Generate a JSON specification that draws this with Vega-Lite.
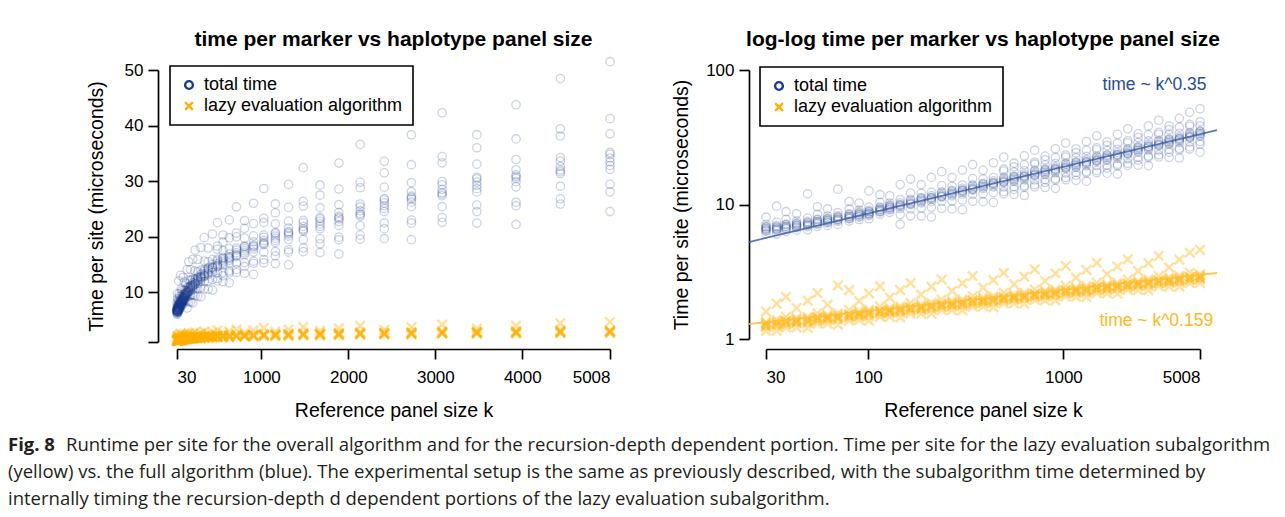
{
"$schema":"https://vega.github.io/schema/vega-lite/v6.json",
"background":"white",
"padding":{"left":8,"top":28,"right":0,"bottom":0},
"config":{
 "font":"Liberation Sans",
 "view":{"stroke":null},
 "axis":{"grid":false,"domainColor":"#000","domainWidth":1.7,"tickColor":"#000","tickWidth":1.7,"tickSize":10,"labelFontSize":17,"labelColor":"#000","titleFontSize":19.5,"titleFontWeight":"normal","titleColor":"#000"},
 "title":{"fontSize":21,"fontWeight":"bold","color":"#000"},
 "legend":{"strokeColor":"#000","strokeWidth":1.6,"fillColor":"#fff","padding":10,"labelFontSize":18,"labelColor":"#000","labelLimit":0,"symbolSize":60,"symbolStrokeWidth":2.4,"symbolOpacity":1,"rowPadding":3,"labelOffset":6}
},
"datasets":{
"total":[
{"k":30,"v":6.07},{"k":30,"v":6.34},{"k":30,"v":6.6},{"k":30,"v":6.8},{"k":30,"v":7.13},{"k":30,"v":8.05},
{"k":34,"v":6.03},{"k":34,"v":6.37},{"k":34,"v":6.57},{"k":34,"v":6.83},{"k":34,"v":7.37},{"k":34,"v":9.72},
{"k":38,"v":6.32},{"k":38,"v":6.6},{"k":38,"v":6.87},{"k":38,"v":7.14},{"k":38,"v":7.75},{"k":38,"v":8.84},
{"k":43,"v":6.44},{"k":43,"v":6.72},{"k":43,"v":7.0},{"k":43,"v":7.21},{"k":43,"v":7.56},{"k":43,"v":8.54},
{"k":49,"v":6.48},{"k":49,"v":6.84},{"k":49,"v":7.06},{"k":49,"v":7.34},{"k":49,"v":7.92},{"k":49,"v":12.0},
{"k":55,"v":6.88},{"k":55,"v":7.18},{"k":55,"v":7.47},{"k":55,"v":7.77},{"k":55,"v":8.44},{"k":55,"v":9.62},
{"k":62,"v":6.99},{"k":62,"v":7.3},{"k":62,"v":7.6},{"k":62,"v":7.83},{"k":62,"v":8.21},{"k":62,"v":9.27},
{"k":70,"v":7.11},{"k":70,"v":7.51},{"k":70,"v":7.74},{"k":70,"v":8.06},{"k":70,"v":8.69},{"k":70,"v":13.0},
{"k":80,"v":7.53},{"k":80,"v":7.86},{"k":80,"v":8.18},{"k":80,"v":8.51},{"k":80,"v":9.23},{"k":80,"v":10.53},
{"k":90,"v":7.73},{"k":90,"v":8.06},{"k":90,"v":8.4},{"k":90,"v":8.65},{"k":90,"v":9.07},{"k":90,"v":10.25},
{"k":101,"v":7.83},{"k":101,"v":8.27},{"k":101,"v":8.53},{"k":101,"v":8.87},{"k":101,"v":9.57},{"k":101,"v":12.62},
{"k":115,"v":8.46},{"k":115,"v":8.83},{"k":115,"v":9.19},{"k":115,"v":9.56},{"k":115,"v":10.37},{"k":115,"v":11.83},
{"k":129,"v":8.74},{"k":129,"v":9.12},{"k":129,"v":9.5},{"k":129,"v":9.79},{"k":129,"v":10.26},{"k":129,"v":11.59},
{"k":146,"v":7.13},{"k":146,"v":8.42},{"k":146,"v":9.31},{"k":146,"v":9.9},{"k":146,"v":10.89},{"k":146,"v":14.06},
{"k":165,"v":8.24},{"k":165,"v":9.27},{"k":165,"v":10.09},{"k":165,"v":10.92},{"k":165,"v":12.15},{"k":165,"v":15.45},
{"k":187,"v":8.21},{"k":187,"v":9.4},{"k":187,"v":10.26},{"k":187,"v":11.12},{"k":187,"v":12.1},{"k":187,"v":14.04},
{"k":211,"v":8.06},{"k":211,"v":9.52},{"k":211,"v":10.53},{"k":211,"v":11.2},{"k":211,"v":12.32},{"k":211,"v":15.9},
{"k":238,"v":9.36},{"k":238,"v":10.53},{"k":238,"v":11.47},{"k":238,"v":12.4},{"k":238,"v":13.81},{"k":238,"v":17.55},
{"k":269,"v":9.27},{"k":269,"v":10.61},{"k":269,"v":11.59},{"k":269,"v":12.57},{"k":269,"v":13.66},{"k":269,"v":15.86},
{"k":304,"v":9.14},{"k":304,"v":10.8},{"k":304,"v":11.94},{"k":304,"v":12.7},{"k":304,"v":13.97},{"k":304,"v":18.03},
{"k":343,"v":10.56},{"k":343,"v":11.88},{"k":343,"v":12.94},{"k":343,"v":13.99},{"k":343,"v":15.58},{"k":343,"v":19.8},
{"k":388,"v":10.49},{"k":388,"v":12.01},{"k":388,"v":13.11},{"k":388,"v":14.21},{"k":388,"v":15.46},{"k":388,"v":17.94},
{"k":438,"v":10.37},{"k":438,"v":12.24},{"k":438,"v":13.54},{"k":438,"v":14.4},{"k":438,"v":15.84},{"k":438,"v":20.45},
{"k":495,"v":12.0},{"k":495,"v":12.45},{"k":495,"v":13.5},{"k":495,"v":14.7},{"k":495,"v":15.9},{"k":495,"v":17.7},{"k":495,"v":18.3},{"k":495,"v":22.5},
{"k":559,"v":11.86},{"k":559,"v":12.95},{"k":559,"v":13.57},{"k":559,"v":14.82},{"k":559,"v":16.07},{"k":559,"v":17.47},{"k":559,"v":19.03},{"k":559,"v":20.28},
{"k":631,"v":11.66},{"k":631,"v":13.45},{"k":631,"v":13.77},{"k":631,"v":15.23},{"k":631,"v":16.2},{"k":631,"v":17.82},{"k":631,"v":19.76},{"k":631,"v":23.0},
{"k":713,"v":13.52},{"k":713,"v":14.03},{"k":713,"v":15.21},{"k":713,"v":16.56},{"k":713,"v":17.91},{"k":713,"v":19.94},{"k":713,"v":20.62},{"k":713,"v":25.35},
{"k":806,"v":13.38},{"k":806,"v":14.61},{"k":806,"v":15.31},{"k":806,"v":16.72},{"k":806,"v":18.13},{"k":806,"v":19.71},{"k":806,"v":21.47},{"k":806,"v":22.88},
{"k":910,"v":13.18},{"k":910,"v":15.19},{"k":910,"v":15.56},{"k":910,"v":17.2},{"k":910,"v":18.3},{"k":910,"v":20.13},{"k":910,"v":22.33},{"k":910,"v":25.99},
{"k":1028,"v":15.28},{"k":1028,"v":15.85},{"k":1028,"v":17.19},{"k":1028,"v":18.72},{"k":1028,"v":20.25},{"k":1028,"v":22.54},{"k":1028,"v":23.3},{"k":1028,"v":28.65},
{"k":1161,"v":15.12},{"k":1161,"v":16.52},{"k":1161,"v":17.31},{"k":1161,"v":18.91},{"k":1161,"v":20.5},{"k":1161,"v":22.29},{"k":1161,"v":24.28},{"k":1161,"v":25.87},
{"k":1312,"v":14.9},{"k":1312,"v":17.18},{"k":1312,"v":17.6},{"k":1312,"v":19.46},{"k":1312,"v":20.7},{"k":1312,"v":22.77},{"k":1312,"v":25.25},{"k":1312,"v":29.39},
{"k":1482,"v":17.28},{"k":1482,"v":17.93},{"k":1482,"v":19.44},{"k":1482,"v":21.17},{"k":1482,"v":22.9},{"k":1482,"v":25.49},{"k":1482,"v":26.35},{"k":1482,"v":32.4},
{"k":1674,"v":17.1},{"k":1674,"v":18.68},{"k":1674,"v":19.58},{"k":1674,"v":21.38},{"k":1674,"v":23.18},{"k":1674,"v":25.2},{"k":1674,"v":27.45},{"k":1674,"v":29.25},
{"k":1891,"v":16.85},{"k":1891,"v":19.42},{"k":1891,"v":19.89},{"k":1891,"v":22.0},{"k":1891,"v":23.4},{"k":1891,"v":25.74},{"k":1891,"v":28.55},{"k":1891,"v":33.23},
{"k":2136,"v":19.52},{"k":2136,"v":20.25},{"k":2136,"v":21.96},{"k":2136,"v":23.91},{"k":2136,"v":25.86},{"k":2136,"v":28.79},{"k":2136,"v":29.77},{"k":2136,"v":36.6},
{"k":2413,"v":19.61},{"k":2413,"v":21.41},{"k":2413,"v":22.45},{"k":2413,"v":24.51},{"k":2413,"v":26.57},{"k":2413,"v":28.9},{"k":2413,"v":31.48},{"k":2413,"v":33.54},
{"k":2725,"v":19.44},{"k":2725,"v":22.41},{"k":2725,"v":22.95},{"k":2725,"v":25.38},{"k":2725,"v":27.0},{"k":2725,"v":29.7},{"k":2725,"v":32.94},{"k":2725,"v":38.34},
{"k":3078,"v":22.56},{"k":3078,"v":23.41},{"k":3078,"v":25.38},{"k":3078,"v":27.64},{"k":3078,"v":29.89},{"k":3078,"v":33.28},{"k":3078,"v":34.4},{"k":3078,"v":42.3},
{"k":3477,"v":22.42},{"k":3477,"v":24.49},{"k":3477,"v":25.67},{"k":3477,"v":28.03},{"k":3477,"v":30.39},{"k":3477,"v":33.04},{"k":3477,"v":35.99},{"k":3477,"v":38.35},
{"k":3928,"v":22.18},{"k":3928,"v":25.56},{"k":3928,"v":26.18},{"k":3928,"v":28.95},{"k":3928,"v":30.8},{"k":3928,"v":33.88},{"k":3928,"v":37.58},{"k":3928,"v":43.74},
{"k":4437,"v":25.84},{"k":4437,"v":26.81},{"k":4437,"v":29.07},{"k":4437,"v":31.65},{"k":4437,"v":34.24},{"k":4437,"v":38.11},{"k":4437,"v":39.41},{"k":4437,"v":48.45},
{"k":5008,"v":24.5},{"k":5008,"v":28.05},{"k":5008,"v":29.41},{"k":5008,"v":32.11},{"k":5008,"v":34.81},{"k":5008,"v":38.5},{"k":5008,"v":41.24},{"k":5008,"v":51.5},
{"k":30,"v":6.4},{"k":30,"v":6.53},{"k":30,"v":6.67},{"k":30,"v":6.86},
{"k":34,"v":6.5},{"k":34,"v":6.63},{"k":34,"v":6.77},{"k":34,"v":6.97},
{"k":38,"v":6.6},{"k":38,"v":6.73},{"k":38,"v":6.87},{"k":38,"v":7.07},
{"k":43,"v":6.79},{"k":43,"v":6.93},{"k":43,"v":7.07},{"k":43,"v":7.28},
{"k":49,"v":6.98},{"k":49,"v":7.13},{"k":49,"v":7.27},{"k":49,"v":7.49},
{"k":55,"v":7.18},{"k":55,"v":7.33},{"k":55,"v":7.47},{"k":55,"v":7.7},
{"k":62,"v":7.37},{"k":62,"v":7.52},{"k":62,"v":7.68},{"k":62,"v":7.9},
{"k":70,"v":7.66},{"k":70,"v":7.82},{"k":70,"v":7.98},{"k":70,"v":8.22},
{"k":80,"v":7.86},{"k":80,"v":8.02},{"k":80,"v":8.18},{"k":80,"v":8.42},
{"k":90,"v":8.15},{"k":90,"v":8.32},{"k":90,"v":8.48},{"k":90,"v":8.74},
{"k":101,"v":8.44},{"k":101,"v":8.61},{"k":101,"v":8.79},{"k":101,"v":9.05},
{"k":115,"v":8.83},{"k":115,"v":9.01},{"k":115,"v":9.19},{"k":115,"v":9.46},
{"k":129,"v":9.22},{"k":129,"v":9.41},{"k":129,"v":9.6},{"k":129,"v":9.88},
{"k":146,"v":9.6},{"k":146,"v":9.8},{"k":146,"v":10.0},{"k":146,"v":10.3},
{"k":165,"v":9.99},{"k":165,"v":10.2},{"k":165,"v":10.4},{"k":165,"v":10.71},
{"k":187,"v":10.48},{"k":187,"v":10.69},{"k":187,"v":10.91},{"k":187,"v":11.23},
{"k":211,"v":10.86},{"k":211,"v":11.09},{"k":211,"v":11.31},{"k":211,"v":11.65},
{"k":238,"v":11.35},{"k":238,"v":11.58},{"k":238,"v":11.82},{"k":238,"v":12.17},
{"k":269,"v":11.83},{"k":269,"v":12.08},{"k":269,"v":12.32},{"k":269,"v":12.69},
{"k":304,"v":12.32},{"k":304,"v":12.57},{"k":304,"v":12.83},{"k":304,"v":13.21},
{"k":343,"v":12.8},{"k":343,"v":13.07},{"k":343,"v":13.33},{"k":343,"v":13.73},
{"k":388,"v":13.39},{"k":388,"v":13.66},{"k":388,"v":13.94},{"k":388,"v":14.35},
{"k":438,"v":13.97},{"k":438,"v":14.26},{"k":438,"v":14.54},{"k":438,"v":14.98},
{"k":495,"v":14.55},{"k":495,"v":14.85},{"k":495,"v":15.15},{"k":495,"v":15.6},
{"k":559,"v":15.13},{"k":559,"v":15.44},{"k":559,"v":15.76},{"k":559,"v":16.22},
{"k":631,"v":15.71},{"k":631,"v":16.04},{"k":631,"v":16.36},{"k":631,"v":16.85},
{"k":713,"v":16.39},{"k":713,"v":16.73},{"k":713,"v":17.07},{"k":713,"v":17.58},
{"k":806,"v":17.07},{"k":806,"v":17.42},{"k":806,"v":17.78},{"k":806,"v":18.3},
{"k":910,"v":17.75},{"k":910,"v":18.12},{"k":910,"v":18.48},{"k":910,"v":19.03},
{"k":1028,"v":18.53},{"k":1028,"v":18.91},{"k":1028,"v":19.29},{"k":1028,"v":19.86},
{"k":1161,"v":19.3},{"k":1161,"v":19.7},{"k":1161,"v":20.1},{"k":1161,"v":20.7},
{"k":1312,"v":20.08},{"k":1312,"v":20.49},{"k":1312,"v":20.91},{"k":1312,"v":21.53},
{"k":1482,"v":20.95},{"k":1482,"v":21.38},{"k":1482,"v":21.82},{"k":1482,"v":22.46},
{"k":1674,"v":21.83},{"k":1674,"v":22.28},{"k":1674,"v":22.73},{"k":1674,"v":23.4},
{"k":1891,"v":22.7},{"k":1891,"v":23.17},{"k":1891,"v":23.63},{"k":1891,"v":24.34},
{"k":2136,"v":23.67},{"k":2136,"v":24.16},{"k":2136,"v":24.64},{"k":2136,"v":25.38},
{"k":2413,"v":25.03},{"k":2413,"v":25.54},{"k":2413,"v":26.06},{"k":2413,"v":26.83},
{"k":2725,"v":26.19},{"k":2725,"v":26.73},{"k":2725,"v":27.27},{"k":2725,"v":28.08},
{"k":3078,"v":27.35},{"k":3078,"v":27.92},{"k":3078,"v":28.48},{"k":3078,"v":29.33},
{"k":3477,"v":28.62},{"k":3477,"v":29.21},{"k":3477,"v":29.8},{"k":3477,"v":30.68},
{"k":3928,"v":29.88},{"k":3928,"v":30.49},{"k":3928,"v":31.11},{"k":3928,"v":32.03},
{"k":4437,"v":31.33},{"k":4437,"v":31.98},{"k":4437,"v":32.62},{"k":4437,"v":33.59},
{"k":5008,"v":32.79},{"k":5008,"v":33.46},{"k":5008,"v":34.14},{"k":5008,"v":35.15}
],
"lazy":[
{"k":30,"v":1.15},{"k":30,"v":1.23},{"k":30,"v":1.28},{"k":30,"v":1.34},{"k":30,"v":1.6},
{"k":34,"v":1.15},{"k":34,"v":1.24},{"k":34,"v":1.31},{"k":34,"v":1.39},{"k":34,"v":1.83},
{"k":38,"v":1.22},{"k":38,"v":1.29},{"k":38,"v":1.36},{"k":38,"v":1.46},{"k":38,"v":2.06},
{"k":43,"v":1.22},{"k":43,"v":1.31},{"k":43,"v":1.36},{"k":43,"v":1.43},{"k":43,"v":1.7},
{"k":49,"v":1.21},{"k":49,"v":1.31},{"k":49,"v":1.38},{"k":49,"v":1.46},{"k":49,"v":1.93},
{"k":55,"v":1.3},{"k":55,"v":1.37},{"k":55,"v":1.44},{"k":55,"v":1.55},{"k":55,"v":2.19},
{"k":62,"v":1.3},{"k":62,"v":1.38},{"k":62,"v":1.44},{"k":62,"v":1.51},{"k":62,"v":1.8},
{"k":70,"v":1.28},{"k":70,"v":1.39},{"k":70,"v":1.46},{"k":70,"v":1.55},{"k":70,"v":2.5},
{"k":80,"v":1.37},{"k":80,"v":1.45},{"k":80,"v":1.52},{"k":80,"v":1.64},{"k":80,"v":2.31},
{"k":90,"v":1.38},{"k":90,"v":1.47},{"k":90,"v":1.53},{"k":90,"v":1.61},{"k":90,"v":1.91},
{"k":101,"v":1.37},{"k":101,"v":1.48},{"k":101,"v":1.56},{"k":101,"v":1.65},{"k":101,"v":2.18},
{"k":115,"v":1.46},{"k":115,"v":1.54},{"k":115,"v":1.62},{"k":115,"v":1.75},{"k":115,"v":2.46},
{"k":129,"v":1.46},{"k":129,"v":1.56},{"k":129,"v":1.62},{"k":129,"v":1.7},{"k":129,"v":2.03},
{"k":146,"v":1.45},{"k":146,"v":1.57},{"k":146,"v":1.65},{"k":146,"v":1.75},{"k":146,"v":2.31},
{"k":165,"v":1.55},{"k":165,"v":1.63},{"k":165,"v":1.71},{"k":165,"v":1.85},{"k":165,"v":2.6},
{"k":187,"v":1.54},{"k":187,"v":1.64},{"k":187,"v":1.71},{"k":187,"v":1.8},{"k":187,"v":2.14},
{"k":211,"v":1.54},{"k":211,"v":1.66},{"k":211,"v":1.75},{"k":211,"v":1.86},{"k":211,"v":2.45},
{"k":238,"v":1.64},{"k":238,"v":1.73},{"k":238,"v":1.82},{"k":238,"v":1.96},{"k":238,"v":2.76},
{"k":269,"v":1.64},{"k":269,"v":1.75},{"k":269,"v":1.82},{"k":269,"v":1.91},{"k":269,"v":2.28},
{"k":304,"v":1.63},{"k":304,"v":1.76},{"k":304,"v":1.85},{"k":304,"v":1.96},{"k":304,"v":2.59},
{"k":343,"v":1.74},{"k":343,"v":1.83},{"k":343,"v":1.93},{"k":343,"v":2.08},{"k":343,"v":2.93},
{"k":388,"v":1.74},{"k":388,"v":1.85},{"k":388,"v":1.93},{"k":388,"v":2.03},{"k":388,"v":2.41},
{"k":438,"v":1.72},{"k":438,"v":1.86},{"k":438,"v":1.96},{"k":438,"v":2.08},{"k":438,"v":2.74},
{"k":495,"v":1.84},{"k":495,"v":1.94},{"k":495,"v":2.04},{"k":495,"v":2.2},{"k":495,"v":3.1},
{"k":559,"v":1.84},{"k":559,"v":1.96},{"k":559,"v":2.04},{"k":559,"v":2.14},{"k":559,"v":2.55},
{"k":631,"v":1.83},{"k":631,"v":1.98},{"k":631,"v":2.08},{"k":631,"v":2.2},{"k":631,"v":2.91},
{"k":713,"v":1.95},{"k":713,"v":2.06},{"k":713,"v":2.16},{"k":713,"v":2.33},{"k":713,"v":3.29},
{"k":806,"v":1.94},{"k":806,"v":2.07},{"k":806,"v":2.16},{"k":806,"v":2.27},{"k":806,"v":2.7},
{"k":910,"v":1.94},{"k":910,"v":2.09},{"k":910,"v":2.2},{"k":910,"v":2.33},{"k":910,"v":3.08},
{"k":1028,"v":2.07},{"k":1028,"v":2.18},{"k":1028,"v":2.3},{"k":1028,"v":2.48},{"k":1028,"v":3.49},
{"k":1161,"v":2.06},{"k":1161,"v":2.2},{"k":1161,"v":2.29},{"k":1161,"v":2.4},{"k":1161,"v":2.86},
{"k":1312,"v":2.05},{"k":1312,"v":2.21},{"k":1312,"v":2.33},{"k":1312,"v":2.47},{"k":1312,"v":3.26},
{"k":1482,"v":2.19},{"k":1482,"v":2.31},{"k":1482,"v":2.43},{"k":1482,"v":2.62},{"k":1482,"v":3.69},
{"k":1674,"v":2.18},{"k":1674,"v":2.32},{"k":1674,"v":2.42},{"k":1674,"v":2.54},{"k":1674,"v":3.03},
{"k":1891,"v":2.17},{"k":1891,"v":2.35},{"k":1891,"v":2.47},{"k":1891,"v":2.62},{"k":1891,"v":3.46},
{"k":2136,"v":2.32},{"k":2136,"v":2.44},{"k":2136,"v":2.57},{"k":2136,"v":2.77},{"k":2136,"v":3.91},
{"k":2413,"v":2.31},{"k":2413,"v":2.47},{"k":2413,"v":2.57},{"k":2413,"v":2.7},{"k":2413,"v":3.21},
{"k":2725,"v":2.31},{"k":2725,"v":2.49},{"k":2725,"v":2.62},{"k":2725,"v":2.78},{"k":2725,"v":3.67},
{"k":3078,"v":2.46},{"k":3078,"v":2.59},{"k":3078,"v":2.72},{"k":3078,"v":2.94},{"k":3078,"v":4.14},
{"k":3477,"v":2.45},{"k":3477,"v":2.61},{"k":3477,"v":2.72},{"k":3477,"v":2.86},{"k":3477,"v":3.4},
{"k":3928,"v":2.45},{"k":3928,"v":2.64},{"k":3928,"v":2.78},{"k":3928,"v":2.95},{"k":3928,"v":3.89},
{"k":4437,"v":2.6},{"k":4437,"v":2.75},{"k":4437,"v":2.89},{"k":4437,"v":3.11},{"k":4437,"v":4.39},
{"k":5008,"v":2.6},{"k":5008,"v":2.77},{"k":5008,"v":2.89},{"k":5008,"v":3.03},{"k":5008,"v":4.6},
{"k":30,"v":1.25},{"k":30,"v":1.31},{"k":34,"v":1.28},{"k":34,"v":1.34},{"k":38,"v":1.3},{"k":38,"v":1.36},
{"k":43,"v":1.33},{"k":43,"v":1.39},{"k":49,"v":1.35},{"k":49,"v":1.41},{"k":55,"v":1.38},{"k":55,"v":1.44},
{"k":62,"v":1.41},{"k":62,"v":1.47},{"k":70,"v":1.43},{"k":70,"v":1.49},{"k":80,"v":1.46},{"k":80,"v":1.52},
{"k":90,"v":1.5},{"k":90,"v":1.56},{"k":101,"v":1.53},{"k":101,"v":1.59},{"k":115,"v":1.56},{"k":115,"v":1.62},
{"k":129,"v":1.59},{"k":129,"v":1.65},{"k":146,"v":1.62},{"k":146,"v":1.68},{"k":165,"v":1.65},{"k":165,"v":1.71},
{"k":187,"v":1.68},{"k":187,"v":1.74},{"k":211,"v":1.72},{"k":211,"v":1.79},{"k":238,"v":1.74},{"k":238,"v":1.82},
{"k":269,"v":1.78},{"k":269,"v":1.86},{"k":304,"v":1.81},{"k":304,"v":1.89},{"k":343,"v":1.85},{"k":343,"v":1.93},
{"k":388,"v":1.89},{"k":388,"v":1.97},{"k":438,"v":1.92},{"k":438,"v":2.0},{"k":495,"v":1.96},{"k":495,"v":2.04},
{"k":559,"v":2.0},{"k":559,"v":2.08},{"k":631,"v":2.04},{"k":631,"v":2.12},{"k":713,"v":2.08},{"k":713,"v":2.16},
{"k":806,"v":2.12},{"k":806,"v":2.2},{"k":910,"v":2.16},{"k":910,"v":2.24},{"k":1028,"v":2.21},{"k":1028,"v":2.3},
{"k":1161,"v":2.24},{"k":1161,"v":2.34},{"k":1312,"v":2.28},{"k":1312,"v":2.38},{"k":1482,"v":2.33},{"k":1482,"v":2.43},
{"k":1674,"v":2.37},{"k":1674,"v":2.47},{"k":1891,"v":2.42},{"k":1891,"v":2.52},{"k":2136,"v":2.47},{"k":2136,"v":2.57},
{"k":2413,"v":2.52},{"k":2413,"v":2.62},{"k":2725,"v":2.57},{"k":2725,"v":2.67},{"k":3078,"v":2.62},{"k":3078,"v":2.72},
{"k":3477,"v":2.67},{"k":3477,"v":2.77},{"k":3928,"v":2.72},{"k":3928,"v":2.84},{"k":4437,"v":2.77},{"k":4437,"v":2.89},
{"k":5008,"v":2.83},{"k":5008,"v":2.95}
],
"fit":[
{"k":24.55,"v":5.26,"s":"T"},{"k":6118,"v":35.8,"s":"T"},
{"k":24.55,"v":1.293,"s":"L"},{"k":6118,"v":3.095,"s":"L"}
],
"notes":[
{"k":2930,"v":77,"s":"T","t":"time ~ k^0.35"},
{"k":2990,"v":1.36,"s":"L","t":"time ~ k^0.159"}
]
},
"vconcat":[
{
"hconcat":[
 {"width":27,"height":10,"data":{"values":[]},"mark":"point"},
 {
 "width":433,"height":272,
 "title":{"text":"time per marker vs haplotype panel size","frame":"group","offset":5},
 "encoding":{
  "x":{"field":"k","type":"quantitative","scale":{"domain":[30,5008],"nice":false,"zero":false},"axis":{"values":[30,1000,2000,3000,4000,5008],"format":"d","title":"Reference panel size k","offset":7,"labelPadding":10,"titlePadding":16}},
  "y":{"field":"v","type":"quantitative","scale":{"domain":[1,50],"nice":false,"zero":false},"axis":{"values":[1,10,20,30,40,50],"labelExpr":"datum.value == 1 ? '' : datum.label","title":"Time per site (microseconds)","offset":19,"labelPadding":5,"titlePadding":18}}
 },
 "layer":[
  {"data":{"name":"total"},
   "mark":{"type":"point","filled":false,"size":70,"strokeWidth":1.3,"opacity":0.22},
   "encoding":{
    "color":{"datum":"total time","scale":{"domain":["total time","lazy evaluation algorithm"],"range":["#1a3a8c","#ffb000"]},"legend":{"orient":"none","legendX":-7,"legendY":-4,"title":null}},
    "shape":{"datum":"total time","scale":{"domain":["total time","lazy evaluation algorithm"],"range":["circle","M-1,-1L1,1M1,-1L-1,1"]},"legend":{"orient":"none","legendX":-7,"legendY":-4,"title":null}}
   }},
  {"data":{"name":"lazy"},
   "mark":{"type":"point","filled":false,"size":90,"strokeWidth":2.4,"opacity":0.38},
   "encoding":{
    "color":{"datum":"lazy evaluation algorithm"},
    "shape":{"datum":"lazy evaluation algorithm"}
   }}
 ]
 },
 {
 "width":434,"height":269,
 "title":{"text":"log-log time per marker vs haplotype panel size","frame":"group","offset":11},
 "encoding":{
  "x":{"field":"k","type":"quantitative","scale":{"type":"log","domain":[30,5008],"nice":false},"axis":{"values":[30,100,1000,5008],"format":"d","title":"Reference panel size k","offset":10,"labelPadding":10,"titlePadding":16}},
  "y":{"field":"v","type":"quantitative","scale":{"type":"log","domain":[1,100],"nice":false},"axis":{"values":[1,10,100],"format":"d","title":"Time per site (microseconds)","offset":17,"labelPadding":5,"titlePadding":14}}
 },
 "layer":[
  {"data":{"name":"total"},
   "mark":{"type":"point","filled":false,"size":70,"strokeWidth":1.3,"opacity":0.22},
   "encoding":{
    "color":{"datum":"total time","scale":{"domain":["total time","lazy evaluation algorithm"],"range":["#1a3a8c","#ffb000"]},"legend":{"orient":"none","legendX":-6,"legendY":-3,"title":null}},
    "shape":{"datum":"total time","scale":{"domain":["total time","lazy evaluation algorithm"],"range":["circle","M-1,-1L1,1M1,-1L-1,1"]},"legend":{"orient":"none","legendX":-6,"legendY":-3,"title":null}}
   }},
  {"data":{"name":"lazy"},
   "mark":{"type":"point","filled":false,"size":90,"strokeWidth":2.4,"opacity":0.38},
   "encoding":{
    "color":{"datum":"lazy evaluation algorithm"},
    "shape":{"datum":"lazy evaluation algorithm"}
   }},
  {"data":{"name":"fit"},
   "mark":{"type":"line","strokeWidth":1.8,"opacity":0.85},
   "encoding":{
    "stroke":{"field":"s","type":"nominal","scale":{"domain":["T","L"],"range":["#3f5fa5","#ffbf30"]},"legend":null}
   }},
  {"data":{"name":"notes"},
   "mark":{"type":"text","fontSize":17.5,"align":"center","baseline":"middle"},
   "encoding":{
    "text":{"field":"t"},
    "fill":{"field":"s","type":"nominal","scale":{"domain":["T","L"],"range":["#2b4c96","#ffb81c"]},"legend":null}
   }}
 ]
 }
],
"spacing":51,
"resolve":{"scale":{"x":"independent","y":"independent","color":"independent","shape":"independent","stroke":"independent","fill":"independent"},"legend":{"color":"independent","shape":"independent"}}
},
{
"width":1270,"height":81,
"encoding":{
 "x":{"datum":0,"type":"quantitative","scale":{"domain":[0,1],"zero":false,"nice":false},"axis":null},
 "y":{"field":"line","type":"quantitative","scale":{"domain":[0.5,3.5],"zero":false,"nice":false,"reverse":true},"axis":null},
 "text":{"field":"t"}
},
"layer":[
 {"data":{"values":[{"line":1,"t":"Fig. 8"}]},
  "mark":{"type":"text","align":"left","baseline":"middle","font":"Open Sans","fontSize":18.5,"fontWeight":"bold","color":"#231f20"}},
 {"data":{"values":[{"line":1,"t":"Runtime per site for the overall algorithm and for the recursion-depth dependent portion. Time per site for the lazy evaluation subalgorithm"}]},
  "mark":{"type":"text","align":"left","baseline":"middle","dx":58,"font":"Open Sans","fontSize":18.5,"color":"#231f20"}},
 {"data":{"values":[{"line":2,"t":"(yellow) vs. the full algorithm (blue). The experimental setup is the same as previously described, with the subalgorithm time determined by"},{"line":3,"t":"internally timing the recursion-depth d dependent portions of the lazy evaluation subalgorithm."}]},
  "mark":{"type":"text","align":"left","baseline":"middle","font":"Open Sans","fontSize":18.5,"color":"#231f20"}}
 ]
}
],
"spacing":11,
"resolve":{"scale":{"x":"independent","y":"independent"}}
}
